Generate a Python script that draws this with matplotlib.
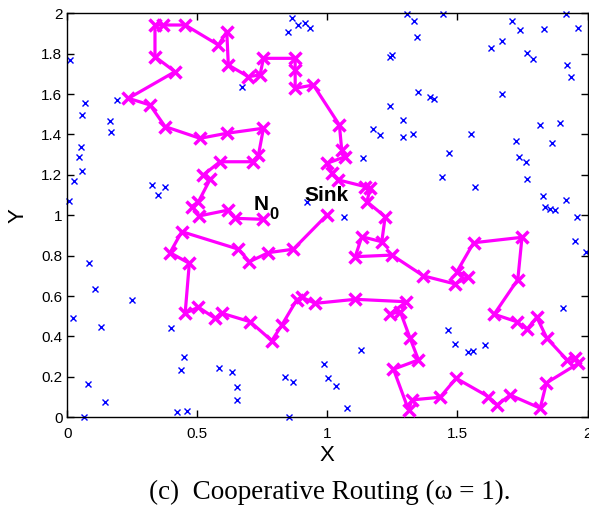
import matplotlib
matplotlib.use('Agg')
import matplotlib.pyplot as plt

# routing path from N0 to the sink
path_x = [0.752, 0.645, 0.619, 0.508, 0.478, 0.504, 0.549, 0.523, 0.587, 0.715,
          0.735, 0.754, 0.613, 0.510, 0.376, 0.318, 0.235, 0.414, 0.337, 0.337,
          0.369, 0.453, 0.581, 0.613, 0.619, 0.696, 0.741, 0.754, 0.876, 0.876,
          0.876, 0.946, 1.046, 1.055, 1.068, 0.998, 1.017, 1.042, 1.145, 1.164,
          1.152, 1.222, 1.209, 1.132, 1.107, 1.248, 1.369, 1.491, 1.542, 1.498,
          1.562, 1.748, 1.732, 1.641, 1.728, 1.767, 1.805, 1.844, 1.921, 1.953,
          1.965, 1.842, 1.818, 1.703, 1.652, 1.619, 1.495, 1.433, 1.325, 1.312,
          1.254, 1.350, 1.318, 1.280, 1.241, 1.303, 1.107, 0.953, 0.902, 0.882,
          0.825, 0.786, 0.703, 0.594, 0.568, 0.504, 0.453, 0.469, 0.395, 0.440,
          0.658, 0.700, 0.773, 0.869, 0.998]
path_y = [0.980, 0.985, 1.026, 0.997, 1.043, 1.067, 1.178, 1.200, 1.265, 1.265,
          1.299, 1.431, 1.406, 1.381, 1.439, 1.546, 1.579, 1.711, 1.785, 1.942,
          1.942, 1.942, 1.843, 1.909, 1.744, 1.686, 1.695, 1.777, 1.777, 1.719,
          1.629, 1.645, 1.447, 1.323, 1.290, 1.257, 1.208, 1.175, 1.142, 1.134,
          1.067, 0.993, 0.869, 0.894, 0.795, 0.803, 0.700, 0.660, 0.696, 0.721,
          0.864, 0.891, 0.682, 0.510, 0.473, 0.436, 0.495, 0.391, 0.284, 0.292,
          0.267, 0.170, 0.045, 0.110, 0.061, 0.102, 0.193, 0.099, 0.086, 0.036,
          0.238, 0.284, 0.391, 0.523, 0.511, 0.572, 0.584, 0.564, 0.594, 0.581,
          0.457, 0.379, 0.473, 0.515, 0.490, 0.545, 0.515, 0.762, 0.815, 0.919,
          0.832, 0.770, 0.815, 0.832, 1.001]

# other sensor nodes
node_x = [0.009, 0.068, 0.055, 0.192, 0.164, 0.167, 0.052, 0.046, 0.055, 0.026,
          0.008, 0.325, 0.350, 0.376, 0.671, 0.850, 0.865, 0.885, 0.912, 0.933,
          0.922, 1.305, 1.331, 1.444, 1.344, 1.241, 1.247, 1.709, 1.741, 1.834,
          1.918, 1.962, 1.628, 1.673, 1.767, 1.790, 1.921, 1.936, 1.350, 1.395,
          1.410, 1.673, 1.241, 1.290, 1.177, 1.203, 1.290, 1.328, 1.553, 1.725,
          1.818, 1.895, 1.865, 1.468, 1.136, 1.737, 1.763, 1.441, 1.568, 1.767,
          1.828, 1.837, 1.857, 1.876, 1.917, 1.959, 1.065, 1.953, 1.994, 1.904,
          1.128, 0.985, 1.004, 1.032, 1.075, 1.463, 1.491, 1.540, 1.559, 1.607,
          0.085, 0.107, 0.021, 0.128, 0.248, 0.398, 0.449, 0.436, 0.585, 0.632,
          0.654, 0.652, 0.078, 0.145, 0.064, 0.421, 0.462, 0.835, 0.869, 0.854]
node_y = [1.769, 1.557, 1.497, 1.571, 1.468, 1.414, 1.340, 1.287, 1.219, 1.171,
          1.071, 1.150, 1.100, 1.142, 1.634, 1.906, 1.975, 1.942, 1.953, 1.926,
          1.066, 1.998, 1.963, 1.998, 1.884, 1.785, 1.794, 1.963, 1.917, 1.922,
          1.997, 1.926, 1.830, 1.863, 1.805, 1.772, 1.744, 1.686, 1.610, 1.587,
          1.574, 1.600, 1.541, 1.472, 1.426, 1.398, 1.386, 1.402, 1.402, 1.369,
          1.447, 1.455, 1.356, 1.310, 1.285, 1.287, 1.265, 1.191, 1.142, 1.180,
          1.096, 1.040, 1.030, 1.026, 1.076, 0.990, 0.993, 0.874, 0.820, 0.540,
          0.333, 0.262, 0.193, 0.155, 0.045, 0.432, 0.363, 0.322, 0.330, 0.358,
          0.765, 0.634, 0.490, 0.449, 0.581, 0.441, 0.300, 0.234, 0.243, 0.223,
          0.149, 0.086, 0.165, 0.074, 0.002, 0.025, 0.033, 0.201, 0.176, 0.002]

xticks = [0, 0.5, 1, 1.5, 2]
xtick_labels = ['0', '0.5', '1', '1.5', '2']
yticks = [0, 0.2, 0.4, 0.6, 0.8, 1, 1.2, 1.4, 1.6, 1.8, 2]
ytick_labels = ['0', '0.2', '0.4', '0.6', '0.8', '1', '1.2', '1.4', '1.6', '1.8', '2']

plt.rcParams['font.family'] = ['Liberation Sans', 'DejaVu Sans']

fig = plt.figure(figsize=(5.89, 5.13), dpi=100)
ax = fig.add_axes([0.1143, 0.1866, 0.8832, 0.7875])

ax.plot(node_x, node_y, linestyle='none', marker='x', color='#0000ff',
        markersize=5, markeredgewidth=1, clip_on=False)
ax.plot(path_x, path_y, color='#ff00ff', linewidth=2.3, marker='x',
        markersize=9, markeredgewidth=2.5, clip_on=False, zorder=3)

# labels of source and sink
ax.text(0.718, 1.051, 'N', fontsize=15, fontweight='bold', ha='left', va='center')
ax.text(0.778, 1.006, '0', fontsize=12, fontweight='bold', ha='left', va='center')
ax.text(0.913, 1.10, 'Sink', fontsize=15, fontweight='bold', ha='left', va='center')

ax.set_xlim(0, 2)
ax.set_ylim(0, 2)
ax.set_xticks(xticks)
ax.set_xticklabels(xtick_labels)
ax.set_yticks(yticks)
ax.set_yticklabels(ytick_labels)
ax.tick_params(direction='in', top=True, right=True, length=5, width=1,
               labelsize=11)
ax.tick_params(axis='x', pad=7)
for s in ax.spines.values():
    s.set_linewidth(1)

ax.set_xlabel('X', fontsize=16, labelpad=3)
ax.set_ylabel('Y', fontsize=16, labelpad=9)

fig.text(0.559, 0.041, '(c)  Cooperative Routing (\u03c9 = 1).',
         family=['Liberation Serif', 'DejaVu Serif'], fontsize=19.5,
         ha='center', va='center')

fig.savefig('out.png', dpi=100)
